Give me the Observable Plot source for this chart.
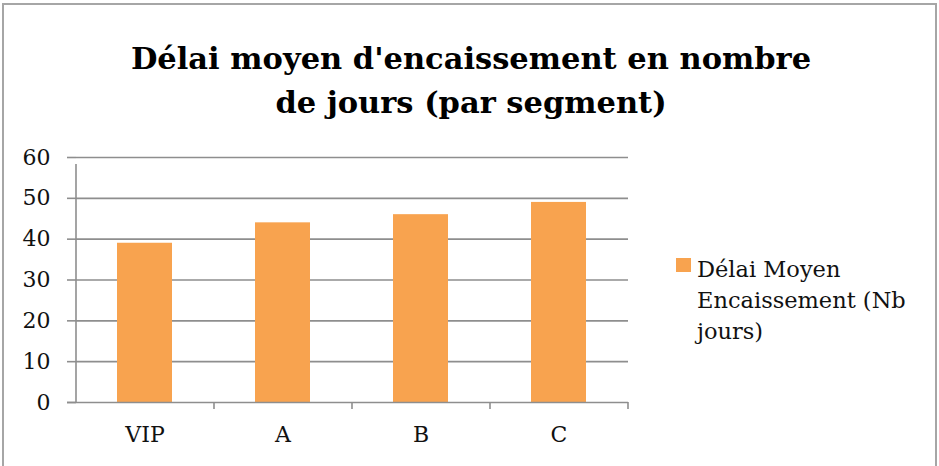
<!DOCTYPE html>
<html>
<head>
<meta charset="utf-8">
<script src="https://cdn.jsdelivr.net/npm/d3@7"></script>
<script src="https://cdn.jsdelivr.net/npm/@observablehq/plot@0.6"></script>
<style>
  html, body { margin: 0; padding: 0; background: #fff; }
  #wrap { position: relative; width: 939px; height: 466px; overflow: hidden; font-family: "DejaVu Serif", serif; }
  #frame { position: absolute; left: 2px; top: 3px; width: 935px; height: 480px; border: 2px solid #a6a6a6; box-sizing: border-box; }
  #title { position: absolute; left: 0; top: 36px; width: 942px; text-align: center; font-weight: bold; font-size: 30.5px; line-height: 44px; color: #000; }
  #chart { position: absolute; left: 0; top: 130px; }
  #legend { position: absolute; left: 676px; top: 254px; font-size: 22.5px; line-height: 31px; color: #111; }
  #legend .sw { position: absolute; left: 0; top: 4px; width: 15px; height: 14px; background: #F8A34F; }
  #legend .lab { position: absolute; left: 21px; top: 0; white-space: nowrap; }
</style>
</head>
<body>
<div id="wrap">
  <div id="frame"></div>
  <div id="title"></div>
  <div id="chart"></div>
  <div id="legend"><div class="sw"></div><div class="lab"></div></div>
</div>
<script>
const titleLines = ["Délai moyen d'encaissement en nombre", "de jours (par segment)"];
const categories = ["VIP", "A", "B", "C"];
const values = [39, 44, 46, 49];
const seriesName = ["Délai Moyen", "Encaissement (Nb", "jours)"];
const yTicks = [0, 10, 20, 30, 40, 50, 60];

document.getElementById("title").innerHTML = titleLines.join("<br>");
document.querySelector("#legend .lab").innerHTML = seriesName.join("<br>");

const data = categories.map((c, i) => ({cat: c, value: values[i]}));

const W = 939, H = 336, ML = 76, MR = 311, MT = 27, MB = 64;
const step = (W - ML - MR) / categories.length;
const gray = "#8e8e8e";

const chart = Plot.plot({
  width: W,
  height: H,
  marginLeft: ML,
  marginRight: MR,
  marginTop: MT,
  marginBottom: MB,
  style: { fontFamily: "DejaVu Serif, serif", fontSize: "22px", color: "#111", background: "transparent" },
  x: { domain: categories, paddingInner: 0.6, paddingOuter: 0.3, align: 0.5 },
  y: { domain: [0, 60], ticks: yTicks },
  marks: [
    Plot.gridY(yTicks.filter(d => d > 0), { stroke: gray, strokeOpacity: 1, strokeWidth: 1.6 }),
    Plot.axisY(yTicks, { tickSize: 9, tickPadding: 17, stroke: gray, strokeWidth: 1.6, fill: "#111", fontSize: 22, label: null }),
    Plot.barY(data, { x: "cat", y: "value", fill: "#F8A34F", style: "filter: drop-shadow(1px 1px 1.5px rgba(0,0,0,0.25))" }),
    Plot.ruleY([0], { stroke: gray, strokeWidth: 1.6, insetLeft: -9 }),
    // left axis line
    Plot.ruleX([categories[0]], { x: d => d, y1: 0, y2: 60, dx: -step / 2, stroke: gray, strokeWidth: 1.6, insetBottom: -7 }),
    // category boundary ticks
    Plot.ruleX(categories, { x: d => d, y1: 0, y2: 0, dx: step / 2, stroke: gray, strokeWidth: 1.6, insetBottom: -7 }),
    Plot.axisX({ tickSize: 0, tickPadding: 24, fill: "#111", fontSize: 22, label: null })
  ]
});
document.getElementById("chart").appendChild(chart);
</script>
</body>
</html>
